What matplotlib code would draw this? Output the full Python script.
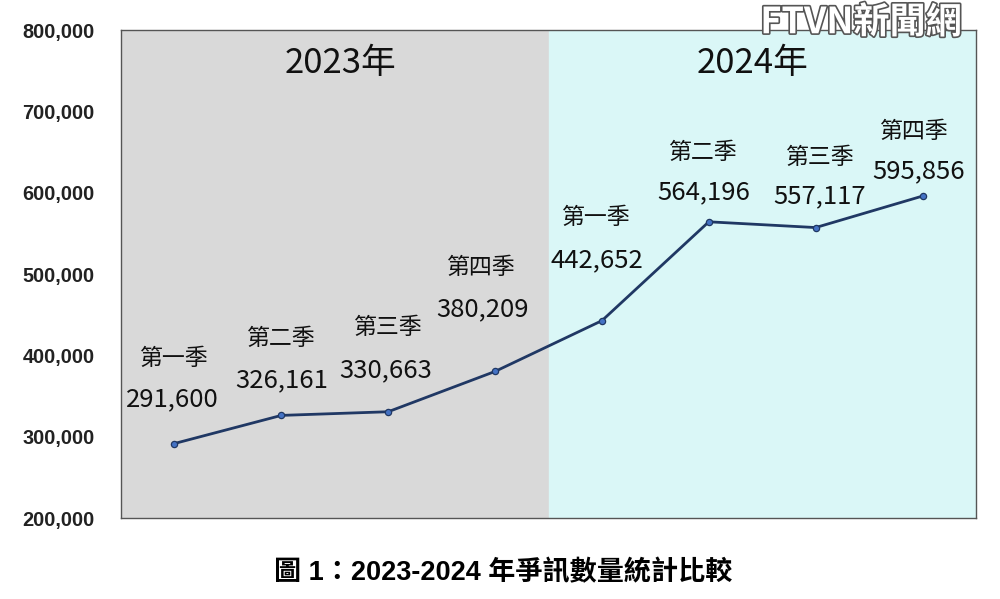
#!/usr/bin/env python3
"""2023-2024 quarterly line chart with year bands."""

import matplotlib
matplotlib.use("Agg")
import matplotlib.pyplot as plt
import matplotlib.patheffects as pe

CJK = ["Noto Sans CJK TC", "DejaVu Sans"]

quarters = ["第一季", "第二季", "第三季", "第四季", "第一季", "第二季", "第三季", "第四季"]
values = [291600, 326161, 330663, 380209, 442652, 564196, 557117, 595856]
years = ["2023年", "2024年"]
y_ticks = [200000, 300000, 400000, 500000, 600000, 700000, 800000]
caption = "圖 1：2023-2024 年爭訊數量統計比較"

# label placement offsets (x in category units, y in data units) for value / quarter name
value_dx = [-0.02, 0.0, -0.02, -0.12, -0.05, -0.05, 0.04, -0.04]
value_dy = [54000, 43000, 51000, 77000, 74000, 36000, 38000, 30000]
name_dx = [0.0, 0.0, 0.0, -0.13, -0.05, -0.05, 0.04, -0.08]
name_dy = [105000, 94000, 103000, 128000, 127000, 85000, 86000, 80000]
year_dx = [0.05, -0.09]

fig = plt.figure(figsize=(10.0, 5.99), dpi=100)
ax = fig.add_axes([0.121, 0.1352, 0.855, 0.8147])

n = len(values)
xs = [i + 0.5 for i in range(n)]
half = n / 2

ax.axvspan(0, half, color="#d9d9d9", zorder=0)
ax.axvspan(half, n, color="#daf7f7", zorder=0)

ax.plot(xs, values, color="#203864", lw=2.0, zorder=3,
        marker="o", ms=4.5, mfc="#4472c4", mec="#203864", mew=0.9)

for i, (x, v, q) in enumerate(zip(xs, values, quarters)):
    ax.text(x + value_dx[i], v + value_dy[i], f"{v:,}", ha="center", va="center",
            fontsize=18.5, family=CJK, color="#111111")
    ax.text(x + name_dx[i], v + name_dy[i], q, ha="center", va="center",
            fontsize=16.5, family=CJK, color="#111111")

for k, label in enumerate(years):
    ax.text(half * k + half / 2 + year_dx[k], 759000, label, ha="center", va="center",
            fontsize=25, family=CJK, color="#111111")

ax.set_xlim(0, n)
ax.set_ylim(200000, 800000)
ax.set_xticks([])
ax.set_yticks(y_ticks)
ax.set_yticklabels([f"{t:,}" for t in y_ticks], fontweight="bold", fontsize=14.3,
                   family=["Liberation Sans"], color="#222222")
ax.tick_params(axis="y", length=0, pad=19)

for s in ax.spines.values():
    s.set_color("#555555")
    s.set_linewidth(1.0)

fig.text(0.503, 0.043, caption, ha="center", va="center", fontsize=19.5,
         fontweight="bold", family=["Liberation Sans", "Noto Sans CJK TC"], color="black")

# watermark
fig.text(0.861, 0.962, "FTVN新聞網", ha="center", va="center", fontsize=26,
         fontweight="bold", style="italic", family=CJK, color="white",
         path_effects=[pe.withStroke(linewidth=2.4, foreground="#555555")])

fig.savefig("out.png", dpi=100)
